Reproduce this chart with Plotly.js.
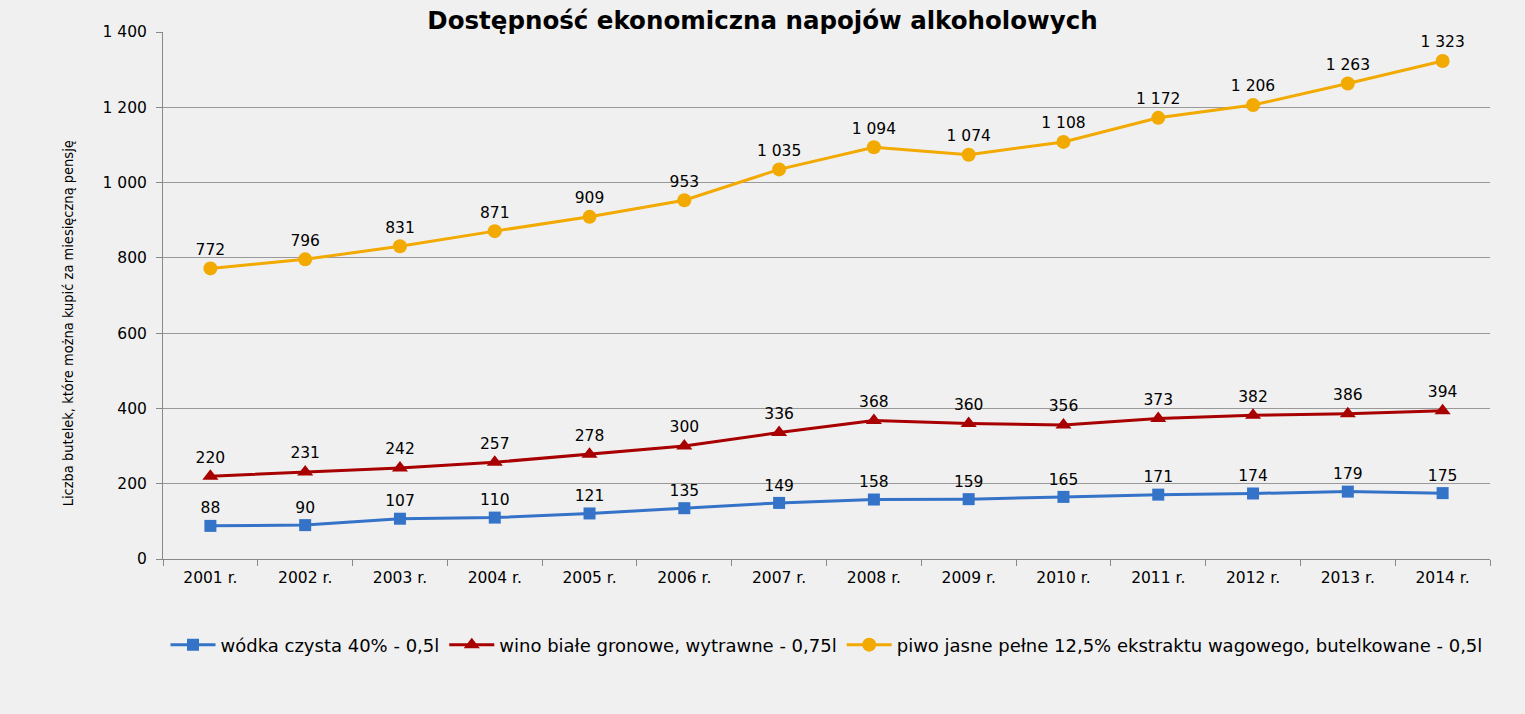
<!DOCTYPE html>
<html>
<head>
<meta charset="utf-8">
<script src="https://cdn.plot.ly/plotly-3.0.1.min.js"></script>
<style>
  body { margin: 0; background: #f0f0f0; }
  #chart { width: 1525px; height: 714px; }
</style>
</head>
<body>
<div id="chart"></div>
<script>
// years and bottles per monthly pension
var years = ["2001 r.", "2002 r.", "2003 r.", "2004 r.", "2005 r.", "2006 r.", "2007 r.",
             "2008 r.", "2009 r.", "2010 r.", "2011 r.", "2012 r.", "2013 r.", "2014 r."];
var wodka = [88, 90, 107, 110, 121, 135, 149, 158, 159, 165, 171, 174, 179, 175];
var wino = [220, 231, 242, 257, 278, 300, 336, 368, 360, 356, 373, 382, 386, 394];
var piwo = [772, 796, 831, 871, 909, 953, 1035, 1094, 1074, 1108, 1172, 1206, 1263, 1323];

var labelFont = {family: "DejaVu Sans", size: 15.5, color: "#000"};

// ------------------------
// one trace per drink
function series(name, values, color, symbol, size) {
  return {
    x: years,
    y: values,
    name: name,
    type: "scatter",
    mode: "lines+markers+text",
    line: {color: color, width: 3},
    marker: {color: color, symbol: symbol, size: size},
    texttemplate: "%{y:,}",
    textposition: "top center",
    textfont: labelFont,
    cliponaxis: false,
    hoverinfo: "y"
  };
}

var data = [
  series("wódka czysta 40% - 0,5l", wodka, "#3473c8", "square", 12),
  series("wino białe gronowe, wytrawne - 0,75l", wino, "#a80000", "triangle-up", 14),
  series("piwo jasne pełne 12,5% ekstraktu wagowego, butelkowane - 0,5l", piwo, "#f2a900", "circle", 14)
];

var layout = {
  width: 1525,
  height: 714,
  paper_bgcolor: "#f0f0f0",
  plot_bgcolor: "#f0f0f0",
  separators: ", ",
  margin: {l: 163, r: 35, t: 32, b: 155},
  title: {
    text: "<b>Dostępność ekonomiczna napojów alkoholowych</b>",
    font: {family: "DejaVu Sans", size: 24.5, color: "#000"},
    x: 0.5, xanchor: "center",
    yref: "container",
    y: 0.971, yanchor: "middle"
  },
  xaxis: {
    type: "category",
    range: [-0.5, 13.5],
    tickson: "boundaries",
    ticks: "outside",
    ticklen: 6,
    tickcolor: "#888",
    showline: true,
    linecolor: "#888",
    showgrid: false,
    ticklabelstandoff: 4,
    tickfont: {family: "DejaVu Sans", size: 15.5, color: "#000"},
    fixedrange: true
  },
  yaxis: {
    range: [0, 1400],
    dtick: 200,
    tickformat: ",",
    ticks: "outside",
    ticklen: 6,
    tickcolor: "#888",
    showline: true,
    linecolor: "#888",
    gridcolor: "#999",
    gridwidth: 1,
    zeroline: false,
    ticklabelstandoff: 6,
    tickfont: {family: "DejaVu Sans", size: 15.5, color: "#000"},
    fixedrange: true
  },
  annotations: [{
    text: "Liczba butelek, które można kupić za miesięczną pensję",
    font: {family: "Liberation Sans Narrow, DejaVu Sans Condensed", size: 14.5, color: "#000"},
    textangle: -90,
    xref: "paper", yref: "paper",
    x: -0.072, y: 0.448,
    xanchor: "center", yanchor: "middle",
    showarrow: false
  }],
  legend: {
    orientation: "h",
    x: 0.5, xanchor: "center",
    y: -0.128, yanchor: "top",
    font: {family: "DejaVu Sans", size: 18, color: "#000"},
    itemwidth: 45,
    tracegroupgap: 0
  },
  showlegend: true
};

Plotly.newPlot("chart", data, layout, {displayModeBar: false, staticPlot: true});
</script>
</body>
</html>
